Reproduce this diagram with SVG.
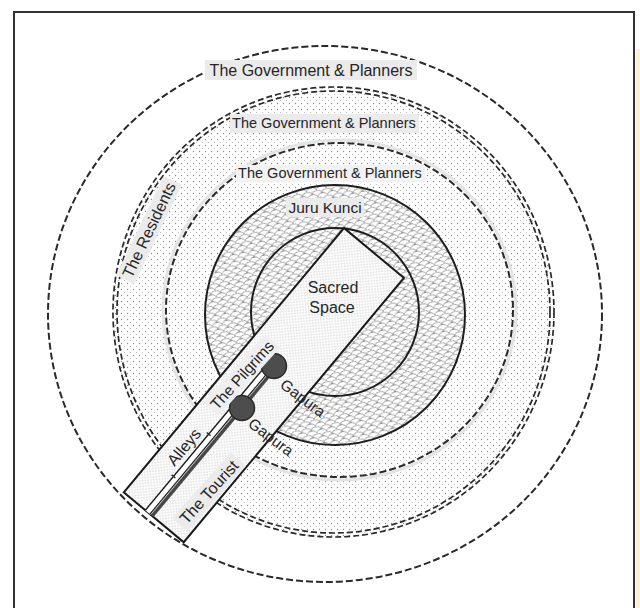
<svg xmlns="http://www.w3.org/2000/svg" width="640" height="608" viewBox="0 0 640 608">
<defs>
<pattern id="dots" width="6" height="6" patternUnits="userSpaceOnUse">
<rect width="6" height="6" fill="#fff"/>
<circle cx="1.5" cy="1.5" r="0.7" fill="#8a8a8a"/>
<circle cx="4.5" cy="4.5" r="0.55" fill="#b0b0b0"/>
</pattern>
<pattern id="dense" width="4" height="4" patternUnits="userSpaceOnUse">
<rect width="4" height="4" fill="#fff"/>
<circle cx="1" cy="1" r="0.55" fill="#a0a0a0"/>
<circle cx="3" cy="3" r="0.55" fill="#a0a0a0"/>
</pattern>
<pattern id="scales" width="10" height="7" patternUnits="userSpaceOnUse" patternTransform="rotate(-12)">
<rect width="10" height="7" fill="#fff"/>
<path d="M0 7 a5 3.6 0 0 1 10 0 M-5 3.5 a5 3.6 0 0 1 10 0 M5 3.5 a5 3.6 0 0 1 10 0" fill="none" stroke="#7c7c7c" stroke-width="0.8"/>
</pattern>
<style>
.dash{fill:none;stroke:#2a2a2a;stroke-width:2;stroke-dasharray:7 3}
.dash2{fill:none;stroke:#2a2a2a;stroke-width:1.7;stroke-dasharray:6 3}
.solid{stroke:#1e1e1e;stroke-width:2}
.lbl{font-family:"Liberation Sans",Arial,sans-serif;fill:#262626;text-anchor:middle;dominant-baseline:central}
.bg{fill:#ebebeb}
</style>
</defs>

<rect x="14" y="12" width="620" height="612" fill="#fff" stroke="#333" stroke-width="2"/>
<rect x="635.5" y="49" width="4.5" height="559" fill="#fdf0d8"/>

<g id="zone-residents">
<ellipse cx="333.5" cy="312" rx="220.5" ry="225" fill="url(#dots)"/>
<ellipse cx="333.5" cy="312" rx="220.5" ry="225" class="dash2"/>
<ellipse cx="333.5" cy="312" rx="216.5" ry="221" class="dash2"/>
</g>

<g id="zone-outer">
<ellipse cx="325" cy="314" rx="277" ry="268" class="dash"/>
</g>

<g id="zone-third">
<ellipse cx="339.5" cy="310" rx="176.5" ry="170" fill="none" stroke="#e4e4e4" stroke-width="3"/>
<ellipse cx="339.5" cy="310" rx="173.5" ry="167" class="dash"/>
</g>

<g id="zone-jurukunci">
<circle cx="335" cy="315" r="130" fill="url(#scales)" class="solid"/>
<circle cx="335" cy="312" r="84" fill="none" class="solid"/>
</g>

<g id="sacred-space">
<g transform="translate(344,228) rotate(39.8)">
<rect x="0" y="0" width="78" height="344" fill="url(#dense)" stroke="#1a1a1a" stroke-width="2"/>
</g>
</g>

<g id="connectors">
<g transform="translate(344,228) rotate(39.8)">
<rect x="28" y="151" width="7" height="193" fill="#fff"/>
<line x1="28" y1="151" x2="28" y2="344" stroke="#1a1a1a" stroke-width="1.4"/>
<line x1="34" y1="151" x2="34" y2="344" stroke="#1a1a1a" stroke-width="1.2"/>
<line x1="37" y1="151" x2="37" y2="344" stroke="#484848" stroke-width="3.5"/>
<line x1="25.5" y1="245" x2="30.5" y2="245" stroke="#333" stroke-width="1.5"/>
<line x1="25.5" y1="300" x2="30.5" y2="300" stroke="#333" stroke-width="1.5"/>
</g>
</g>

<g id="gapura-1">
<circle cx="274" cy="366" r="12.5" fill="#4d4d4d" stroke="#2a2a2a" stroke-width="1.5"/>
<text class="lbl" font-size="15.5" transform="translate(303,398) rotate(37)">Gapura</text>
</g>
<g id="gapura-2">
<circle cx="242" cy="408" r="12.5" fill="#4d4d4d" stroke="#2a2a2a" stroke-width="1.5"/>
<text class="lbl" font-size="15.5" transform="translate(271,437) rotate(37)">Gapura</text>
</g>

<g id="label-gov-1">
<rect class="bg" x="205" y="60" width="212" height="20"/>
<text class="lbl" x="311" y="70" font-size="16">The Government &amp; Planners</text>
</g>
<g id="label-gov-2">
<rect class="bg" x="230" y="114" width="189" height="19"/>
<text class="lbl" x="324" y="123" font-size="14.5">The Government &amp; Planners</text>
</g>
<g id="label-gov-3">
<rect x="236" y="165" width="189" height="17" fill="#f2f2f2"/>
<text class="lbl" x="330" y="173" font-size="14.5">The Government &amp; Planners</text>
</g>
<g id="label-juru">
<rect class="bg" x="286" y="198" width="78" height="19"/>
<text class="lbl" x="325" y="207" font-size="15.5">Juru Kunci</text>
</g>
<g id="label-sacred">
<text class="lbl" x="333" y="287" font-size="16">Sacred</text>
<text class="lbl" x="332" y="307" font-size="16">Space</text>
</g>
<g id="label-residents" transform="translate(149,230) rotate(-64.4)">
<rect class="bg" x="-55" y="-10" width="110" height="20"/>
<text class="lbl" x="0" y="0" font-size="16">The Residents</text>
</g>
<g id="label-pilgrims" transform="translate(242,375) rotate(-48)">
<rect x="-46" y="-10" width="92" height="20" fill="#efefef"/>
<text class="lbl" x="0" y="0" font-size="15.5">The Pilgrims</text>
</g>
<g id="label-alleys" transform="translate(184,447) rotate(-50)">
<text class="lbl" x="0" y="0" font-size="16">Alleys</text>
</g>
<g id="label-tourist" transform="translate(209,492) rotate(-48)">
<rect class="bg" x="-44" y="-10" width="88" height="20"/>
<text class="lbl" x="0" y="0" font-size="16">The Tourist</text>
</g>
</svg>
